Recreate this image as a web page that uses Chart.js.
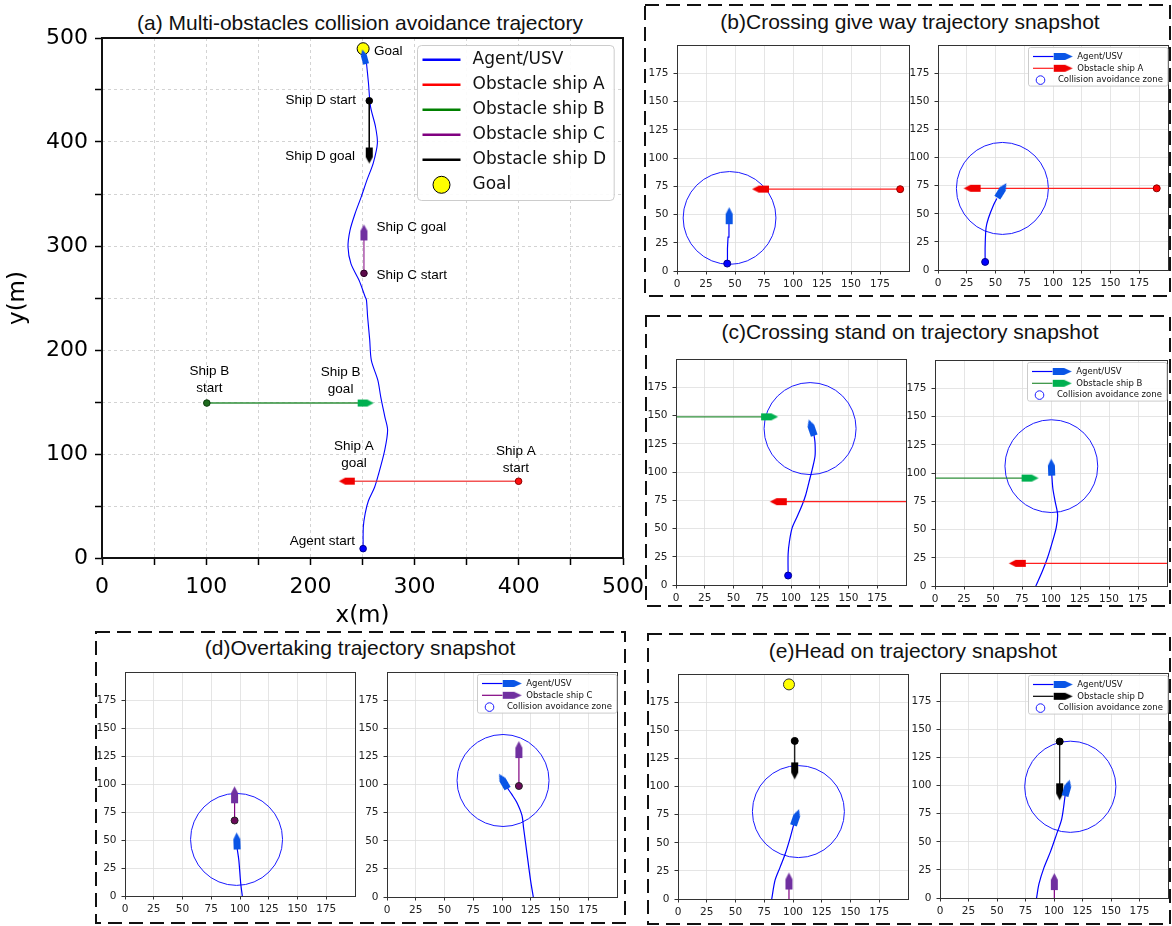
<!DOCTYPE html>
<html>
<head>
<meta charset="utf-8">
<script src="https://cdn.jsdelivr.net/npm/chart.js@4.4.1/dist/chart.umd.min.js"></script>
<style>
  body { margin: 0; background: #fff; width: 1172px; height: 926px; position: relative; overflow: hidden; font-family: "Liberation Sans", Arial, sans-serif; }
  canvas { position: absolute; }
  .ttl { position: absolute; transform: translate(-50%, -50%); white-space: nowrap; color: #111; font-size: 21px; }
</style>
</head>
<body>
<svg width="1172" height="926" style="position:absolute;left:0;top:0">
  <g fill="none" stroke="#111" stroke-width="2" stroke-dasharray="14 7">
    <rect x="645" y="5" width="525" height="291"/>
    <rect x="646" y="316" width="524" height="290"/>
    <rect x="96" y="632" width="529" height="291"/>
    <rect x="648" y="634" width="522" height="290"/>
  </g>
</svg>
<div class="ttl" style="left:360px;top:23px">(a) Multi-obstacles collision avoidance trajectory</div>
<div class="ttl" style="left:910px;top:22px">(b)Crossing give way trajectory snapshot</div>
<div class="ttl" style="left:910px;top:332px">(c)Crossing stand on trajectory snapshot</div>
<div class="ttl" style="left:360px;top:648px">(d)Overtaking trajectory snapshot</div>
<div class="ttl" style="left:913px;top:651px">(e)Head on trajectory snapshot</div>
<canvas id="ca"></canvas>
<canvas id="cb1"></canvas><canvas id="cb2"></canvas>
<canvas id="cc1"></canvas><canvas id="cc2"></canvas>
<canvas id="cd1"></canvas><canvas id="cd2"></canvas>
<canvas id="ce1"></canvas><canvas id="ce2"></canvas>
<script>
// ---------- data: (a) whole run, metres ----------
const mainTicks = [0, 50, 100, 150, 200, 250, 300, 350, 400, 450, 500];
const mainTickLabels = ['0', '', '100', '', '200', '', '300', '', '400', '', '500'];
const mainLegendNames = ['Agent/USV', 'Obstacle ship A', 'Obstacle ship B', 'Obstacle ship C', 'Obstacle ship D', 'Goal'];

const agentPath = [[250.6,9],[250.8,30],[252.6,43],[255.7,55],[261.6,68],[265.5,81],[271.4,104],[274.1,123],
  [271.4,136],[267.5,155],[264.7,171],[258.5,190],[256.9,210],[254.9,232],[253.8,248],[252.6,251],[246.7,267],
  [238.9,283],[236.1,299],[238,315],[242.8,331],[248.7,347],[254.5,364],[260.4,380],[264.3,399],[262.4,415],
  [257.7,434],[255.7,457],[253.8,476]];
const agentStart = [250.6, 9];
const agentShip = [251.6, 482, 105];   // x, y, heading (deg)
const goalPos = [250.6, 489.7];
const shipALine = [[399.8,73.8],[235,73.8]];
const shipA = [235, 73.8, 180];
const shipBLine = [[100.6,149],[253,149]];
const shipB = [253, 149, 0];
const shipCLine = [[251.4,273.7],[251.4,313]];
const shipC = [251.4, 313, 90];
const shipDLine = [[256.5,439.6],[256.5,387]];
const shipD = [256.5, 387, 270];

const noteText = ['Goal', 'Ship D start', 'Ship D goal', 'Ship C goal', 'Ship C start', 'Ship B\nstart', 'Ship B\ngoal', 'Ship A\ngoal', 'Ship A\nstart', 'Agent start'];
const noteX = [261, 243.8, 242.8, 263.5, 263.5, 103, 229, 241.8, 397.3, 242.8];
const noteY = [487, 439.7, 386.5, 317.6, 272, 171.5, 170.4, 99, 94, 16.3];
const noteAlign = ['left', 'right', 'right', 'left', 'left', 'center', 'center', 'center', 'center', 'right'];

// ---------- data: snapshots (b)-(e) ----------
const subTicks = [0, 25, 50, 75, 100, 125, 150, 175];
const subTickLabels = ['0', '25', '50', '75', '100', '125', '150', '175'];
const zoneR = 40;

const b1Agent = [[43.3,6.6],[43.5,20],[44,30],[44.8,41.7]];
const b1AgentShip = [45, 49, 90];
const b1Zone = [45.3, 47];
const b1ALine = [[192.4,72.5],[72,72.5]];
const b1ShipA = [72, 72.5, 180];

const b2Agent = [[41,7.2],[41,21],[41.8,37.6],[43.9,46.3],[48.3,57.9],[51.2,63.6]];
const b2AgentShip = [55.5, 70.8, 58];
const b2Zone = [56, 72.6];
const b2ALine = [[190.2,72.7],[29.7,72.7]];
const b2ShipA = [29.7, 72.7, 180];

const c1Agent = [[97.5,8.4],[97.5,27.5],[98.7,39],[101,50.6],[105.4,60.7],[109.7,70.9],[112.7,79.5],[115.6,91],
  [118.5,102.7],[120.9,114.3],[120.9,125.8],[120,133]];
const c1AgentShip = [117.8, 139.5, 109];
const c1Zone = [116.6, 138.6];
const c1BLine = [[0,149],[81.4,149]];
const c1ShipB = [81.4, 149, 0];
const c1ALine = [[200,73.8],[89,73.8]];
const c1ShipA = [89, 73.8, 180];

const c2Agent = [[86.9,0],[91.9,11.5],[96.3,23],[100.7,37.4],[104.5,51.8],[105.7,63.3],[103.6,74.8],[101.6,86.4],[100.7,98.4]];
const c2AgentShip = [100.4, 105.3, 92];
const c2Zone = [100.3, 106.2];
const c2BLine = [[0,95.6],[82,95.6]];
const c2ShipB = [82, 95.6, 0];
const c2ALine = [[200,20],[71,20]];
const c2ShipA = [71, 20, 180];

const d1Agent = [[102,0],[100.6,11.6],[99,31.9],[97.6,42]];
const d1AgentShip = [97.3, 49.2, 92];
const d1Zone = [97, 50.6];
const d1CLine = [[95.3,67.5],[95.3,90.5]];
const d1ShipC = [95.3, 90.5, 90];

const d2Agent = [[127.2,0],[124.8,15],[121.8,38],[118.8,61.2],[117.3,72.8],[112.8,84.3],[108.4,91.5],[104.5,97.3]];
const d2AgentShip = [101.2, 103, 120];
const d2Zone = [100.9, 103.7];
const d2CLine = [[114.7,98.8],[114.7,131.2]];
const d2ShipC = [114.7, 131.2, 90];

const e1Goal = [96.5, 191];
const e1DLine = [[101.5,140.7],[101.5,114]];
const e1ShipD = [101.5, 114, 270];
const e1Zone = [104.7, 77.8];
const e1Agent = [[81.5,0],[84.4,16.8],[88.8,28.4],[93.2,40],[97.6,54.6],[100.6,66.2]];
const e1AgentShip = [102.8, 72.7, 71];
const e1CLine = [[96.5,0],[96.5,16]];
const e1ShipC = [96.5, 16, 90];

const e2DLine = [[105,139.3],[105,94.5]];
const e2ShipD = [105, 94.5, 270];
const e2Zone = [114.3, 99];
const e2Agent = [[84.7,0],[86.8,12.5],[91.2,27],[97,41.5],[102,56],[106.8,70.5],[109.7,90.8]];
const e2AgentShip = [111.7, 98, 74];
const e2CLine = [[100.3,0],[100.3,14.6]];
const e2ShipC = [100.3, 14.6, 90];

// ---------- drawing helpers ----------
Chart.defaults.font.family = 'DejaVu Sans';

function shipIcon(color, len, wid) {
  const c = document.createElement('canvas');
  c.width = len + 2; c.height = wid + 2;
  const g = c.getContext('2d');
  const xh = 1 + len * 0.6, ym = (wid + 2) / 2;
  g.beginPath();
  g.moveTo(1, 1); g.lineTo(xh, 1); g.lineTo(len + 1, ym); g.lineTo(xh, wid + 1); g.lineTo(1, wid + 1);
  g.closePath();
  g.fillStyle = color; g.fill();
  return c;
}
const icoAgent = shipIcon('#0a55e6', 17, 7);
const icoA = shipIcon('#f00000', 17, 7);
const icoB = shipIcon('#00b050', 17, 7);
const icoC = shipIcon('#7030a0', 17, 7);
const icoD = shipIcon('#000000', 17, 7);
const icoAgentM = shipIcon('#0a55e6', 15, 6);
const icoAM = shipIcon('#f00000', 16, 7);
const icoBM = shipIcon('#00b050', 16, 7);
const icoCM = shipIcon('#7030a0', 16, 7);
const icoDM = shipIcon('#000000', 16, 7);
const legAgent = shipIcon('#0a55e6', 19, 7);
const legA = shipIcon('#f00000', 19, 7);
const legB = shipIcon('#00b050', 19, 7);
const legC = shipIcon('#7030a0', 19, 7);
const legD = shipIcon('#000000', 19, 7);

const pts = arr => arr.map(([x, y]) => ({x, y}));
const path = (arr, color, w, t = 0) => ({data: pts(arr), showLine: true, borderColor: color, borderWidth: w, pointRadius: 0, tension: t});
const dot = (p, fill, edge, r) => ({data: pts([p]), pointRadius: r, pointBackgroundColor: fill, pointBorderColor: edge, pointBorderWidth: 1});
const ship = (s, icon) => ({data: [{x: s[0], y: s[1]}], pointStyle: icon, pointRotation: -s[2], pointRadius: 5});
const zone = c => ({
  data: pts([c]), pointBackgroundColor: 'rgba(0,0,0,0)', pointBorderColor: '#1a1aff', pointBorderWidth: 1,
  pointRadius: ctx => { const s = ctx.chart.scales.x; return Math.abs(s.getPixelForValue(zoneR) - s.getPixelForValue(0)); }
});

const framePlugin = {
  id: 'frame',
  afterDraw(chart, args, o) {
    const {ctx, chartArea: a} = chart;
    const h = o.width % 2 ? 0.5 : 0;
    ctx.save();
    ctx.strokeStyle = o.color; ctx.lineWidth = o.width;
    ctx.strokeRect(Math.round(a.left) + h, Math.round(a.top) + h, Math.round(a.right - a.left), Math.round(a.bottom - a.top));
    ctx.restore();
  }
};

const boxLegend = {
  id: 'boxLegend',
  afterDraw(chart, args, o) {
    if (!o.items) return;
    const {ctx, chartArea: a} = chart;
    ctx.save();
    ctx.font = o.font;
    let w = 0;
    o.items.forEach(it => {
      const tx = it.kind === 'circle' ? o.circleTextX : o.textX;
      w = Math.max(w, tx + ctx.measureText(it.text).width);
    });
    w += o.padR;
    const h = o.firstRow + o.rowH * (o.items.length - 1) + o.padB;
    const x0 = Math.round(a.right - o.inset[0] - w) + 0.5, y0 = Math.round(a.top + o.inset[1]) + 0.5;
    ctx.beginPath();
    if (ctx.roundRect) ctx.roundRect(x0, y0, w, h, o.radius); else ctx.rect(x0, y0, w, h);
    ctx.fillStyle = 'rgba(255,255,255,0.9)'; ctx.fill();
    ctx.strokeStyle = '#cccccc'; ctx.lineWidth = 1; ctx.stroke();
    ctx.textBaseline = 'middle'; ctx.textAlign = 'left'; ctx.fillStyle = '#111';
    o.items.forEach((it, i) => {
      const y = y0 + o.firstRow + i * o.rowH;
      if (it.kind === 'line' || it.kind === 'lineShip') {
        ctx.strokeStyle = it.color; ctx.lineWidth = o.lineW;
        ctx.beginPath(); ctx.moveTo(x0 + o.lineX[0], y); ctx.lineTo(x0 + o.lineX[1], y); ctx.stroke();
        if (it.kind === 'lineShip') ctx.drawImage(it.icon, x0 + o.shipX - it.icon.width / 2, y - it.icon.height / 2);
        ctx.fillText(it.text, x0 + o.textX, y);
      } else {
        ctx.beginPath(); ctx.arc(x0 + o.circleX, y, o.circleR, 0, Math.PI * 2);
        ctx.fillStyle = it.fill; ctx.fill();
        ctx.strokeStyle = it.edge; ctx.lineWidth = 1; ctx.stroke();
        ctx.fillStyle = '#111';
        ctx.fillText(it.text, x0 + (it.kind === 'circle' ? o.circleTextX : o.textX), y);
      }
    });
    ctx.restore();
  }
};

const notesPlugin = {
  id: 'notes',
  afterDatasetsDraw(chart) {
    const {ctx, scales: {x, y}} = chart;
    ctx.save();
    ctx.font = '13.5px "Liberation Sans"'; ctx.fillStyle = '#000'; ctx.textBaseline = 'middle';
    noteText.forEach((t, i) => {
      const px = x.getPixelForValue(noteX[i]), py = y.getPixelForValue(noteY[i]);
      const lines = t.split('\n');
      ctx.textAlign = noteAlign[i];
      lines.forEach((ln, k) => ctx.fillText(ln, px, py + (k - (lines.length - 1) / 2) * 17));
    });
    ctx.restore();
  }
};

// ---------- (a) main chart ----------
function mainAxis(axis) {
  return {
    type: 'linear', min: 0, max: 500,
    afterBuildTicks: s => { s.ticks = mainTicks.map(v => ({value: v})); },
    afterFit: s => { if (axis === 'x') s.height = 82; else s.width = 102; },
    ticks: {callback: (v, i) => mainTickLabels[i], font: {size: 22}, color: '#000', padding: axis === 'x' ? 9 : 7, maxRotation: 0, autoSkip: false},
    grid: {color: '#c8c8c8', lineWidth: 0.8, tickLength: 7, tickColor: '#000', tickWidth: 1.5},
    border: {display: false, dash: [3, 3]},
    title: {display: true, text: axis === 'x' ? 'x(m)' : 'y(m)', font: {size: 23}, color: '#000',
      padding: axis === 'x' ? {top: 0, bottom: 10} : {top: 4, bottom: 0}}
  };
}

(function () {
  const cv = document.getElementById('ca');
  cv.width = 660; cv.height = 640;
  cv.style.left = '0px'; cv.style.top = '0px';
  new Chart(cv, {
    type: 'scatter',
    data: {datasets: [
      ship(agentShip, icoAgentM),
      dot(goalPos, '#ffff00', '#000', 6),
      ship(shipA, icoAM), ship(shipB, icoBM), ship(shipC, icoCM), ship(shipD, icoDM),
      dot(shipALine[0], '#ff1010', '#8b0000', 3.3),
      dot(shipBLine[0], '#1e6b1e', '#0b3d0b', 3.3),
      dot(shipCLine[0], '#5c0a4a', '#2a0022', 3.3),
      dot(shipDLine[0], '#000', '#000', 3.3),
      dot(agentStart, '#0000ff', '#00008b', 3.3),
      path(shipALine, 'rgba(240,40,40,0.8)', 1.5),
      path(shipBLine, '#2f8f3a', 1.5),
      path(shipCLine, '#800080', 1),
      path(shipDLine, '#000', 1),
      path(agentPath, '#0000ff', 1.1, 0.3)
    ]},
    options: {
      responsive: false, animation: false, events: [],
      layout: {padding: {top: 38, right: 37, left: 0, bottom: 0}},
      scales: {x: mainAxis('x'), y: mainAxis('y')},
      plugins: {
        legend: {display: false}, tooltip: {enabled: false},
        frame: {color: '#111', width: 2},
        boxLegend: {
          items: [
            {kind: 'line', color: '#0000ff', text: mainLegendNames[0]},
            {kind: 'line', color: '#ff0000', text: mainLegendNames[1]},
            {kind: 'line', color: '#008000', text: mainLegendNames[2]},
            {kind: 'line', color: '#800080', text: mainLegendNames[3]},
            {kind: 'line', color: '#000000', text: mainLegendNames[4]},
            {kind: 'marker', fill: '#ffff00', edge: '#000', text: mainLegendNames[5]}
          ],
          font: '17px "DejaVu Sans"', inset: [9.5, 7], firstRow: 14.3, rowH: 25, padB: 15.7, padR: 8,
          lineX: [5, 43], lineW: 2.5, shipX: 0, textX: 55, circleX: 24, circleR: 8.5, circleTextX: 55, radius: 4
        }
      }
    },
    plugins: [notesPlugin, framePlugin, boxLegend]
  });
})();

// ---------- snapshot charts ----------
function subAxis(axis) {
  return {
    type: 'linear', min: 0, max: 200,
    afterBuildTicks: s => { s.ticks = subTicks.map(v => ({value: v})); },
    afterFit: s => { if (axis === 'x') s.height = 22; else s.width = 34; },
    ticks: {callback: (v, i) => subTickLabels[i], font: {size: 10.5}, color: '#222', padding: axis === 'x' ? 3 : 5, maxRotation: 0, autoSkip: false},
    grid: {color: '#dedede', lineWidth: 0.8, tickLength: 3.5, tickColor: '#333', tickWidth: 1},
    border: {display: false}
  };
}

function subLegend(item2) {
  return {
    items: [
      {kind: 'lineShip', color: '#0000ff', icon: legAgent, text: 'Agent/USV'},
      item2,
      {kind: 'circle', fill: 'rgba(0,0,0,0)', edge: '#1a1aff', text: 'Collision avoidance zone'}
    ],
    font: '8.5px "DejaVu Sans"', inset: [1, 1.5], firstRow: 9, rowH: 11.8, padB: 6, padR: 5,
    lineX: [4.5, 25], lineW: 1.2, shipX: 34.7, textX: 48.7, circleX: 12, circleR: 4.3, circleTextX: 29.4, radius: 2
  };
}

function subChart(id, area, datasets, legend) {
  const [L, T, R, B] = area;
  const cv = document.getElementById(id);
  cv.width = R - L + 46; cv.height = B - T + 28;
  cv.style.left = (L - 34) + 'px'; cv.style.top = (T - 6) + 'px';
  new Chart(cv, {
    type: 'scatter',
    data: {datasets},
    options: {
      responsive: false, animation: false, events: [],
      layout: {padding: {top: 6, right: 12, left: 0, bottom: 0}},
      scales: {x: subAxis('x'), y: subAxis('y')},
      plugins: {legend: {display: false}, tooltip: {enabled: false}, frame: {color: '#333', width: 1}, boxLegend: legend || {}}
    },
    plugins: [framePlugin, boxLegend]
  });
}

subChart('cb1', [677, 40, 909, 271], [
  ship(b1AgentShip, icoAgent), ship(b1ShipA, icoA),
  dot(b1Agent[0], '#0000ff', '#00008b', 3.5), dot(b1ALine[0], '#ff0000', '#8b0000', 3.5),
  path(b1ALine, '#ff2020', 1.2), path(b1Agent, '#0000ff', 1.2), zone(b1Zone)
]);
subChart('cb2', [938, 40, 1168, 270], [
  ship(b2AgentShip, icoAgent), ship(b2ShipA, icoA),
  dot(b2Agent[0], '#0000ff', '#00008b', 3.5), dot(b2ALine[0], '#ff0000', '#8b0000', 3.5),
  path(b2ALine, '#ff2020', 1.2), path(b2Agent, '#0000ff', 1.2, 0.3), zone(b2Zone)
], subLegend({kind: 'lineShip', color: '#ff2020', icon: legA, text: 'Obstacle ship A'}));

subChart('cc1', [676, 354, 906, 585], [
  ship(c1AgentShip, icoAgent), ship(c1ShipB, icoB), ship(c1ShipA, icoA),
  dot(c1Agent[0], '#0000ff', '#00008b', 3.5),
  path(c1BLine, '#2f8f3a', 1.2), path(c1ALine, '#ff2020', 1.2), path(c1Agent, '#0000ff', 1.2, 0.3), zone(c1Zone)
]);
subChart('cc2', [935, 355, 1167, 586], [
  ship(c2AgentShip, icoAgent), ship(c2ShipB, icoB), ship(c2ShipA, icoA),
  path(c2BLine, '#2f8f3a', 1.2), path(c2ALine, '#ff2020', 1.2), path(c2Agent, '#0000ff', 1.2, 0.3), zone(c2Zone)
], subLegend({kind: 'lineShip', color: '#2f8f3a', icon: legB, text: 'Obstacle ship B'}));

subChart('cd1', [125, 667, 355, 896], [
  ship(d1AgentShip, icoAgent), ship(d1ShipC, icoC),
  dot(d1CLine[0], '#6a0a5a', '#222', 3.5),
  path(d1CLine, '#800080', 1.2), path(d1Agent, '#0000ff', 1.2, 0.3), zone(d1Zone)
]);
subChart('cd2', [387, 667, 617, 897], [
  ship(d2AgentShip, icoAgent), ship(d2ShipC, icoC),
  dot(d2CLine[0], '#6a0a5a', '#222', 3.5),
  path(d2CLine, '#800080', 1.2), path(d2Agent, '#0000ff', 1.2, 0.3), zone(d2Zone)
], subLegend({kind: 'lineShip', color: '#800080', icon: legC, text: 'Obstacle ship C'}));

subChart('ce1', [678, 669, 908, 899], [
  dot(e1Goal, '#ffff00', '#333', 5.5),
  ship(e1AgentShip, icoAgent), ship(e1ShipD, icoD), ship(e1ShipC, icoC),
  dot(e1DLine[0], '#000', '#000', 3.5),
  path(e1DLine, '#000', 1.2), path(e1CLine, '#800080', 1.2), path(e1Agent, '#0000ff', 1.2, 0.3), zone(e1Zone)
]);
subChart('ce2', [940, 668, 1168, 898], [
  ship(e2AgentShip, icoAgent), ship(e2ShipD, icoD), ship(e2ShipC, icoC),
  dot(e2DLine[0], '#000', '#000', 3.5),
  path(e2DLine, '#000', 1.2), path(e2CLine, '#800080', 1.2), path(e2Agent, '#0000ff', 1.2, 0.3), zone(e2Zone)
], subLegend({kind: 'lineShip', color: '#000', icon: legD, text: 'Obstacle ship D'}));
</script>
</body>
</html>
